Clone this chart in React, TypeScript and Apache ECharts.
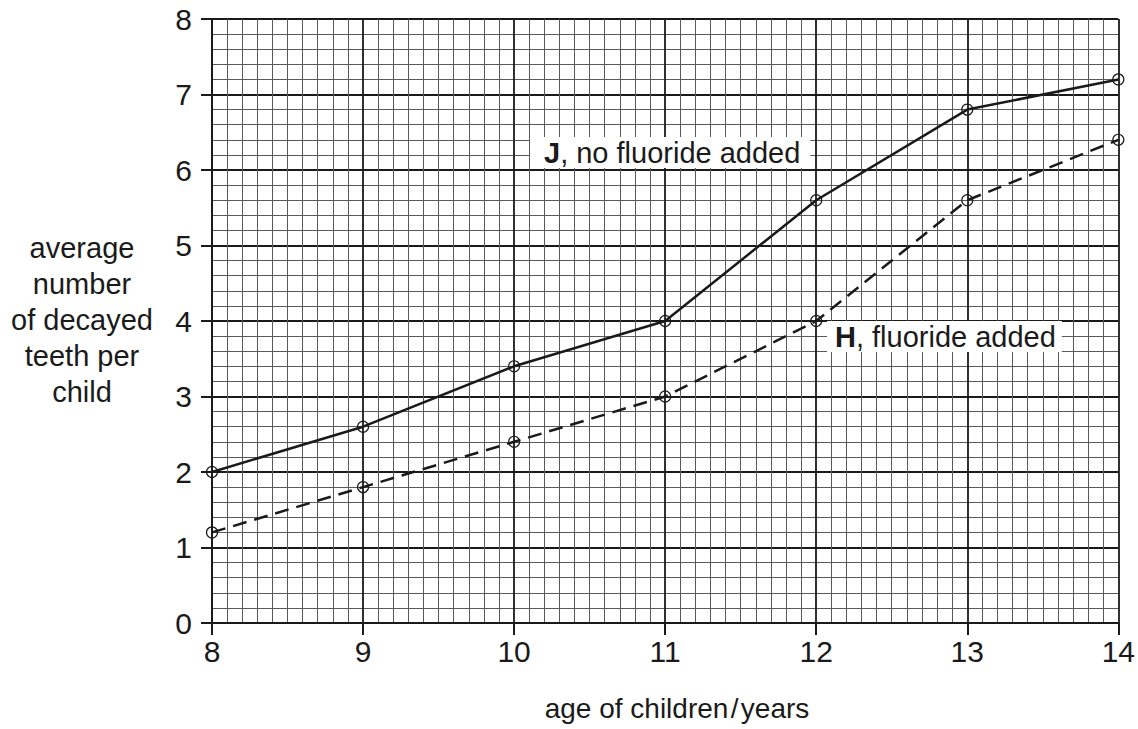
import React, { useEffect, useRef } from "react";
import * as echarts from "echarts";

const ages = [8, 9, 10, 11, 12, 13, 14];
const noFluoride = [2, 2.6, 3.4, 4, 5.6, 6.8, 7.2];
const fluoride = [1.2, 1.8, 2.4, 3, 4, 5.6, 6.4];
const yNameLines = ["average", "number", "of decayed", "teeth per", "child"];
const xName = "age of children\u200a/\u200ayears";

const FONT = "'Liberation Sans', Arial, Helvetica, sans-serif";

export default function App() {
  const ref = useRef<HTMLDivElement>(null);
  useEffect(() => {
    document.body.style.margin = "0";
    const chart = echarts.init(ref.current!, null, { renderer: "svg" });
    const option = {
      animation: false,
      backgroundColor: "#ffffff",
      grid: { left: 212, right: 19, top: 19, bottom: 106 },
      xAxis: {
        type: "value",
        min: 8,
        max: 14,
        interval: 1,
        axisLine: { show: true, onZero: false, lineStyle: { color: "#1a1a1a", width: 2 } },
        axisTick: { show: true, length: 12, inside: false, lineStyle: { color: "#1a1a1a", width: 2 } },
        axisLabel: { fontSize: 30, color: "#1a1a1a", fontFamily: FONT, margin: 13 },
        splitLine: { show: true, lineStyle: { color: "#1a1a1a", width: 1.8 } },
        minorTick: { show: false, splitNumber: 10 },
        minorSplitLine: { show: true, lineStyle: { color: "#5a5a5a", width: 1 } },
      },
      yAxis: {
        type: "value",
        min: 0,
        max: 8,
        interval: 1,
        axisLine: { show: true, lineStyle: { color: "#1a1a1a", width: 2 } },
        axisTick: { show: true, length: 11, inside: false, lineStyle: { color: "#1a1a1a", width: 2 } },
        axisLabel: { fontSize: 30, color: "#1a1a1a", fontFamily: FONT, margin: 20 },
        splitLine: { show: true, lineStyle: { color: "#1a1a1a", width: 1.8 } },
        minorTick: { show: false, splitNumber: 5 },
        minorSplitLine: { show: true, lineStyle: { color: "#5a5a5a", width: 1 } },
      },
      series: [
        {
          name: "J, no fluoride added",
          type: "line",
          data: ages.map((a, i) => [a, noFluoride[i]]),
          symbol: "circle",
          symbolSize: 11,
          itemStyle: { color: "rgba(255,255,255,0)", borderColor: "#1a1a1a", borderWidth: 1.2 },
          lineStyle: { color: "#1a1a1a", width: 2.5 },
          z: 5,
        },
        {
          name: "H, fluoride added",
          type: "line",
          data: ages.map((a, i) => [a, fluoride[i]]),
          symbol: "circle",
          symbolSize: 11,
          itemStyle: { color: "rgba(255,255,255,0)", borderColor: "#1a1a1a", borderWidth: 1.2 },
          lineStyle: { color: "#1a1a1a", width: 2.5, type: [14, 8] },
          z: 5,
        },
      ],
      graphic: [
        {
          type: "text",
          left: 530,
          top: 137,
          z: 100,
          style: {
            text: "{b|J}, no fluoride added",
            fontSize: 29,
            fontFamily: FONT,
            fill: "#1a1a1a",
            backgroundColor: "#fff",
            padding: [1, 10, 1, 14],
            rich: { b: { fontWeight: "bold", fontSize: 29, fontFamily: FONT, fill: "#1a1a1a" } },
          },
        },
        {
          type: "text",
          left: 827,
          top: 321,
          z: 100,
          style: {
            text: "{b|H}, fluoride added",
            fontSize: 29,
            fontFamily: FONT,
            fill: "#1a1a1a",
            backgroundColor: "#fff",
            padding: [1, 6, 1, 8],
            rich: { b: { fontWeight: "bold", fontSize: 29, fontFamily: FONT, fill: "#1a1a1a" } },
          },
        },
        {
          type: "text",
          x: 82,
          y: 320,
          style: {
            text: yNameLines.join("\n"),
            fontSize: 29,
            lineHeight: 36,
            fontFamily: FONT,
            fill: "#1a1a1a",
            align: "center",
            verticalAlign: "middle",
          },
        },
        {
          type: "text",
          x: 677,
          y: 708,
          style: {
            text: xName,
            fontSize: 28,
            fontFamily: FONT,
            fill: "#1a1a1a",
            align: "center",
            verticalAlign: "middle",
          },
        },
      ],
    };
    chart.setOption(option as any);
    return () => chart.dispose();
  }, []);
  return <div ref={ref} style={{ width: 1138, height: 729 }} />;
}
